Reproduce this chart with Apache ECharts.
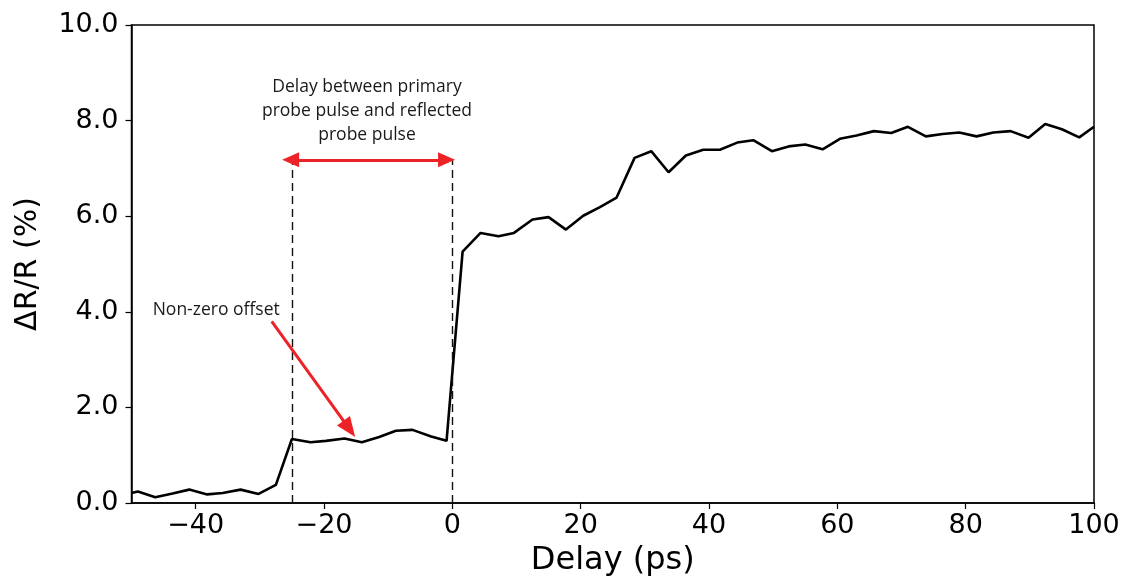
<!DOCTYPE html>
<html>
<head>
<meta charset="utf-8">
<script src="https://cdn.jsdelivr.net/npm/echarts@6/dist/echarts.min.js"></script>
<style>
  html, body { margin: 0; padding: 0; background: #fff; }
  #chart { width: 1123px; height: 583px; }
</style>
</head>
<body>
<div id="chart"></div>
<script>
// Pump-probe transient reflectivity trace
const delayPs = [-50, -49, -46.3, -43.6, -41.0, -38.2, -35.8, -33.0, -30.2, -27.5,
  -25.0, -22.1, -19.7, -16.8, -14.1, -11.4, -8.8, -6.2, -3.3, -0.9,
  1.6, 4.4, 7.2, 9.6, 12.5, 15.0, 17.7, 20.4, 23.0, 25.6,
  28.4, 31.0, 33.7, 36.4, 39.1, 41.7, 44.4, 46.9, 49.8, 52.4,
  55.0, 57.7, 60.4, 63.0, 65.7, 68.4, 71.0, 73.8, 76.4, 79.0,
  81.7, 84.3, 87.0, 89.8, 92.4, 95.0, 97.7, 100];
const dRR = [0.21, 0.24, 0.12, 0.20, 0.28, 0.18, 0.21, 0.28, 0.19, 0.38,
  1.34, 1.27, 1.30, 1.35, 1.27, 1.38, 1.51, 1.53, 1.39, 1.30,
  5.26, 5.65, 5.58, 5.65, 5.93, 5.98, 5.72, 6.01, 6.19, 6.39,
  7.22, 7.36, 6.92, 7.27, 7.39, 7.39, 7.54, 7.59, 7.36, 7.46,
  7.50, 7.40, 7.62, 7.69, 7.78, 7.74, 7.87, 7.67, 7.72, 7.75,
  7.67, 7.75, 7.78, 7.64, 7.93, 7.82, 7.65, 7.87];

// Markers: the two pulse arrival times and the annotation anchors (data units)
const pulseTimes = [-25, 0];
const markerTop = 7.18;
const spanArrow = [-25.2, -0.9];
const offsetArrow = [[-28.15, 3.80], [-16.05, 1.55]];
const spanText = { x: -13.3, y: 8.21, text: 'Delay between primary\nprobe pulse and reflected\nprobe pulse' };
const offsetText = { x: -46.7, y: 4.03, text: 'Non-zero offset' };

const RED = '#ec2227';
const tickFont = { fontFamily: 'DejaVu Sans', fontSize: 27, color: '#000' };
const noteFont = { fontFamily: 'Open Sans', fontSize: 17.5, color: '#1a1a1a' };

const chart = echarts.init(document.getElementById('chart'), null, { renderer: 'canvas' });

const dashedLines = pulseTimes.map(t => [
  { coord: [t, 0], symbol: 'none' },
  { coord: [t, markerTop], symbol: 'none' }
]);

chart.setOption({
  animation: false,
  backgroundColor: '#fff',
  grid: {
    left: 131.5, right: 29, top: 25, bottom: 80,
    show: true, borderColor: '#000', borderWidth: 1.5, backgroundColor: 'transparent'
  },
  xAxis: {
    type: 'value', min: -50, max: 100, interval: 20,
    name: 'Delay (ps)', nameLocation: 'middle', nameGap: 42,
    nameTextStyle: { fontFamily: 'DejaVu Sans', fontSize: 32, color: '#000' },
    axisLine: { show: true, onZero: false, lineStyle: { color: '#000', width: 1.5 } },
    axisTick: { show: true, inside: false, length: 6, lineStyle: { color: '#000', width: 1.2 },
      customValues: [-40, -20, 0, 20, 40, 60, 80, 100] },
    axisLabel: Object.assign({ margin: 9,
      customValues: [-40, -20, 0, 20, 40, 60, 80, 100],
      formatter: v => (v < 0 ? '\u2212' + Math.abs(v) : String(v)) }, tickFont),
    splitLine: { show: false }
  },
  yAxis: {
    type: 'value', min: 0, max: 10, interval: 2,
    name: '\u0394R/R (%)', nameLocation: 'middle', nameGap: 88, nameRotate: 90,
    nameTextStyle: { fontFamily: 'DejaVu Sans', fontSize: 30, color: '#000' },
    axisLine: { show: true, onZero: false, lineStyle: { color: '#000', width: 1.5 } },
    axisTick: { show: true, inside: false, length: 6, lineStyle: { color: '#000', width: 1.2 } },
    axisLabel: Object.assign({ margin: 13, formatter: v => v.toFixed(1) }, tickFont),
    splitLine: { show: false }
  },
  series: [
    {
      type: 'line',
      data: delayPs.map((x, i) => [x, dRR[i]]),
      showSymbol: false,
      symbol: 'none',
      lineStyle: { color: '#000', width: 2.6 },
      z: 3,
      markLine: {
        silent: true,
        symbol: 'none',
        label: { show: false },
        lineStyle: { color: '#111', width: 1.4, type: [8, 5] },
        data: dashedLines
      }
    },
    {
      // red annotation arrows and texts
      type: 'line',
      data: [],
      z: 4,
      markLine: {
        silent: true,
        label: { show: false },
        symbol: ['triangle', 'triangle'],
        data: [
          [
            { coord: [spanArrow[0], markerTop], symbol: 'triangle', symbolSize: [15, 17],
              lineStyle: { color: RED, width: 3, type: 'solid' } },
            { coord: [spanArrow[1], markerTop], symbol: 'triangle', symbolSize: [15, 17] }
          ],
          [
            { coord: offsetArrow[0], symbol: 'none',
              lineStyle: { color: RED, width: 3, type: 'solid' } },
            { coord: offsetArrow[1], symbol: 'triangle', symbolSize: [16, 20] }
          ]
        ],
        itemStyle: { color: RED }
      },
      markPoint: {
        silent: true,
        symbolSize: 0,
        data: [
          { coord: [spanText.x, spanText.y], value: 0,
            label: Object.assign({ show: true, position: 'inside', formatter: spanText.text,
              lineHeight: 24, align: 'center' }, noteFont) },
          { coord: [offsetText.x, offsetText.y], value: 0,
            label: Object.assign({ show: true, position: 'right', distance: 0,
              formatter: offsetText.text }, noteFont) }
        ]
      }
    }
  ]
});
</script>
</body>
</html>
